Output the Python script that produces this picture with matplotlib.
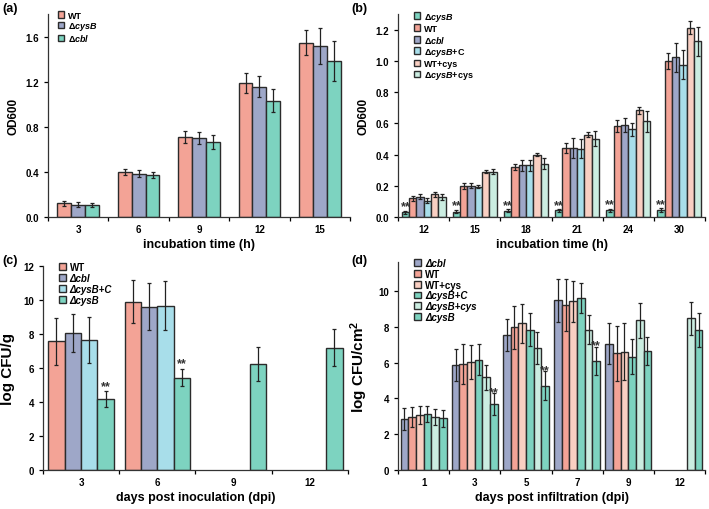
import numpy as np
import matplotlib.pyplot as plt

plt.rcParams['font.family'] = ['Liberation Sans', 'DejaVu Sans']
plt.rcParams['font.weight'] = 'bold'
plt.rcParams['axes.labelweight'] = 'bold'
plt.rcParams['mathtext.fontset'] = 'custom'
plt.rcParams['mathtext.rm'] = 'Liberation Sans:bold'
plt.rcParams['mathtext.bf'] = 'Liberation Sans:bold'
plt.rcParams['mathtext.it'] = 'Liberation Sans:italic:bold'

# colours
C_WT = '#F3A396'
C_BLUE = '#9EA7C8'
C_TEAL = '#7DD3C0'
C_LBLUE = '#A8DEEA'
C_PEACH = '#F9CFC2'
C_MINT = '#CBEDE1'

# ---- panel (a) ----
a_times = ['3', '6', '9', '12', '15']
a_wt = [0.12, 0.40, 0.71, 1.19, 1.545]
a_wt_err = [0.02, 0.03, 0.05, 0.09, 0.11]
a_cysb = [0.11, 0.385, 0.70, 1.157, 1.515]
a_cysb_err = [0.02, 0.03, 0.05, 0.09, 0.157]
a_cbl = [0.105, 0.375, 0.665, 1.033, 1.386]
a_cbl_err = [0.015, 0.025, 0.065, 0.10, 0.176]

# ---- panel (b) ----
b_times = ['12', '15', '18', '21', '24', '30']
b_cysb = [0.03, 0.035, 0.04, 0.042, 0.043, 0.045]
b_cysb_err = [0.01, 0.01, 0.01, 0.008, 0.01, 0.01]
b_wt = [0.12, 0.20, 0.32, 0.441, 0.582, 0.998]
b_wt_err = [0.015, 0.02, 0.02, 0.03, 0.037, 0.053]
b_cbl = [0.13, 0.20, 0.33, 0.441, 0.589, 1.024]
b_cbl_err = [0.015, 0.015, 0.035, 0.064, 0.045, 0.093]
b_comp = [0.105, 0.195, 0.33, 0.437, 0.561, 0.976]
b_comp_err = [0.015, 0.01, 0.035, 0.061, 0.043, 0.091]
b_wtcys = [0.145, 0.29, 0.40, 0.527, 0.683, 1.212]
b_wtcys_err = [0.015, 0.01, 0.01, 0.017, 0.023, 0.043]
b_cysbcys = [0.13, 0.29, 0.34, 0.50, 0.612, 1.126]
b_cysbcys_err = [0.02, 0.015, 0.035, 0.048, 0.07, 0.094]

# ---- panel (c) ----
c_days = ['3', '6', '9', '12']
c_wt = [7.57, 9.9, None, None]
c_wt_err = [1.37, 1.25, None, None]
c_cbl = [8.06, 9.6, None, None]
c_cbl_err = [1.1, 1.37, None, None]
c_comp = [7.67, 9.67, None, None]
c_comp_err = [1.35, 1.45, None, None]
c_cysb = [4.17, 5.44, 6.22, 7.2]
c_cysb_err = [0.45, 0.52, 1.0, 1.1]

# ---- panel (d) ----
d_days = ['1', '3', '5', '7', '9', '12']
d_cbl = [2.84, 5.87, 7.55, 9.48, 7.05, None]
d_cbl_err = [0.6, 0.9, 0.9, 1.2, 1.15, None]
d_wt = [2.95, 5.93, 7.98, 9.2, 6.52, None]
d_wt_err = [0.55, 1.1, 1.2, 1.45, 1.55, None]
d_wtcys = [3.07, 6.06, 8.2, 9.42, 6.62, None]
d_wtcys_err = [0.5, 0.95, 1.1, 1.15, 1.6, None]
d_comp = [3.12, 6.17, 7.85, 9.6, 6.34, None]
d_comp_err = [0.45, 0.85, 0.9, 0.85, 1.0, None]
d_cysbcys = [2.95, 5.18, 6.8, 7.85, 8.36, 8.49]
d_cysbcys_err = [0.45, 0.7, 0.9, 0.8, 0.97, 0.92]
d_cysb = [2.88, 3.68, 4.71, 6.1, 6.64, 7.83]
d_cysb_err = [0.45, 0.6, 0.8, 0.8, 0.8, 0.95]


def grouped(ax, cats, series, width, stars=None, star_pad=0.0):
    n = len(series)
    for j, (label, vals, errs, color) in enumerate(series):
        xs, hs, es = [], [], []
        for i, (v, e) in enumerate(zip(vals, errs)):
            if v is None:
                continue
            xs.append(i + (j - (n - 1) / 2) * width)
            hs.append(v)
            es.append(e)
        ax.bar(xs, hs, width, color=color, edgecolor='#2b2b2b', linewidth=1.0,
               label=label, zorder=2)
        ax.errorbar(xs, hs, yerr=es, fmt='none', ecolor='#222222',
                    elinewidth=0.9, capsize=1.6, capthick=0.9, zorder=3)
        if stars is not None and stars[0] == j:
            for i in stars[1]:
                x = i + (j - (n - 1) / 2) * width
                ax.text(x, vals[i] + errs[i] + star_pad, '**', ha='center',
                        va='bottom', fontsize=9, fontweight='bold',
                        color='#333333')
    ax.set_xlim(-0.5, len(cats) - 0.5)
    ax.set_xticks(range(len(cats)))
    ax.set_xticklabels(cats)
    ax.set_xticks(np.arange(-0.5, len(cats), 1.0), minor=True)
    ax.tick_params(axis='x', which='major', length=0, pad=5, labelsize=7)
    ax.tick_params(axis='x', which='minor', length=3, width=0.9, direction='out')
    ax.tick_params(axis='y', length=3, width=0.9, labelsize=7)
    for s in ['top', 'right']:
        ax.spines[s].set_visible(False)
    for s in ['left', 'bottom']:
        ax.spines[s].set_linewidth(0.9)
        ax.spines[s].set_color('#333333')


def legend(ax, size, anchor, spacing, italic=()):
    leg = ax.legend(loc='upper left', bbox_to_anchor=anchor, frameon=False,
                    fontsize=size, handlelength=0.7, handleheight=0.7,
                    handletextpad=0.4, labelspacing=spacing, borderaxespad=0)
    for k in italic:
        leg.get_texts()[k].set_style('italic')
    return leg


fig = plt.figure(figsize=(7.09, 5.10), dpi=100)

axa = fig.add_axes([0.0677, 0.5725, 0.426, 0.398])
grouped(axa, a_times, [
    ('WT', a_wt, a_wt_err, C_WT),
    (r'$\Delta\mathit{cysB}$', a_cysb, a_cysb_err, C_BLUE),
    (r'$\Delta\mathit{cbl}$', a_cbl, a_cbl_err, C_TEAL),
], 0.23)
axa.set_ylim(0, 1.8)
axa.set_yticks(np.arange(0, 1.61, 0.4))
axa.yaxis.set_major_formatter(plt.FormatStrFormatter('%.1f'))
axa.set_ylabel('OD600', fontsize=8.5, labelpad=4)
axa.set_xlabel('incubation time (h)', fontsize=9, labelpad=3)
legend(axa, 6.5, (0.02, 1.035), 0.05)

axb = fig.add_axes([0.5614, 0.5725, 0.433, 0.398])
grouped(axb, b_times, [
    (r'$\Delta\mathit{cysB}$', b_cysb, b_cysb_err, C_TEAL),
    ('WT', b_wt, b_wt_err, C_WT),
    (r'$\Delta\mathit{cbl}$', b_cbl, b_cbl_err, C_BLUE),
    (r'$\Delta\mathit{cysB}$+C', b_comp, b_comp_err, C_LBLUE),
    ('WT+cys', b_wtcys, b_wtcys_err, C_PEACH),
    (r'$\Delta\mathit{cysB}$+cys', b_cysbcys, b_cysbcys_err, C_MINT),
], 0.143, stars=(0, range(6)), star_pad=-0.01)
axb.set_ylim(0, 1.3)
axb.set_yticks(np.arange(0, 1.21, 0.2))
axb.yaxis.set_major_formatter(plt.FormatStrFormatter('%.1f'))
axb.set_ylabel('OD600', fontsize=8.5, labelpad=4)
axb.set_xlabel('incubation time (h)', fontsize=9, labelpad=3)
legend(axb, 6.5, (0.04, 1.035), 0.12)

axc = fig.add_axes([0.0606, 0.0765, 0.430, 0.400])
grouped(axc, c_days, [
    ('WT', c_wt, c_wt_err, C_WT),
    ('Δcbl', c_cbl, c_cbl_err, C_BLUE),
    ('ΔcysB+C', c_comp, c_comp_err, C_LBLUE),
    ('ΔcysB', c_cysb, c_cysb_err, C_TEAL),
], 0.215, stars=(3, [0, 1]), star_pad=-0.05)
axc.set_ylim(0, 12)
axc.set_yticks(np.arange(0, 12.1, 2))
axc.set_ylabel('log CFU/g', fontsize=11, labelpad=6)
axc.set_xlabel('days post inoculation (dpi)', fontsize=9, labelpad=3)
legend(axc, 7, (0.04, 1.04), 0.12, italic=(1, 2, 3))

axd = fig.add_axes([0.5614, 0.0765, 0.433, 0.407])
grouped(axd, d_days, [
    ('Δcbl', d_cbl, d_cbl_err, C_BLUE),
    ('WT', d_wt, d_wt_err, C_WT),
    ('WT+cys', d_wtcys, d_wtcys_err, C_PEACH),
    ('ΔcysB+C', d_comp, d_comp_err, C_TEAL),
    ('ΔcysB+cys', d_cysbcys, d_cysbcys_err, C_MINT),
    ('ΔcysB', d_cysb, d_cysb_err, C_TEAL),
], 0.15, stars=(5, [1, 2, 3]), star_pad=-0.25)
axd.set_ylim(0, 11.6)
axd.set_yticks(np.arange(0, 10.1, 2))
axd.set_ylabel('log CFU/cm$^2$', fontsize=11, labelpad=6)
axd.set_xlabel('days post infiltration (dpi)', fontsize=9, labelpad=3)
legend(axd, 7, (0.04, 1.04), 0.08, italic=(0, 3, 4, 5))

for x, y, s in [(0.003, 0.995, '(a)'), (0.496, 0.995, '(b)'),
                (0.003, 0.500, '(c)'), (0.496, 0.500, '(d)')]:
    fig.text(x, y, s, fontsize=9, fontweight='bold', va='top', ha='left')

fig.savefig('out.png', dpi=100)
